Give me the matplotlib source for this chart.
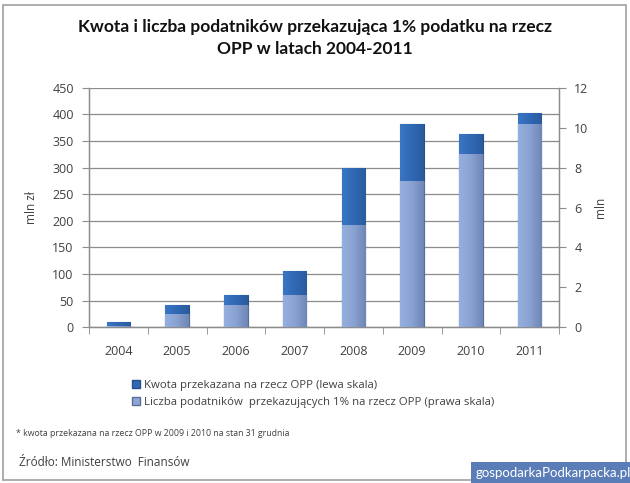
import numpy as np
import matplotlib
matplotlib.use('Agg')
import matplotlib.pyplot as plt
from matplotlib.patches import Rectangle, Patch

# data
years = ['2004', '2005', '2006', '2007', '2008', '2009', '2010', '2011']
kwota = [10.4, 41.3, 61.2, 105.9, 298.5, 381.0, 363.0, 402.0]      # mln zł, left scale
liczba = [0.08, 0.68, 1.13, 1.61, 5.11, 7.34, 8.70, 10.17]         # mln, right scale
left_ticks = [0, 50, 100, 150, 200, 250, 300, 350, 400, 450]
right_ticks = [0, 2, 4, 6, 8, 10, 12]

title = 'Kwota i liczba podatników przekazująca 1% podatku na rzecz\nOPP w latach 2004-2011'
legend_labels = ['Kwota przekazana na rzecz OPP (lewa skala)',
                 'Liczba podatników  przekazujących 1% na rzecz OPP (prawa skala)']
footnote = '* kwota przekazana na rzecz OPP w 2009 i 2010 na stan 31 grudnia'
source = 'Źródło: Ministerstwo  Finansów'
watermark = 'gospodarkaPodkarpacka.pl'

plt.rcParams['font.family'] = ['Open Sans', 'DejaVu Sans']

DARK = '#2f68b4'
LIGHT = '#8ea6d6'
TXT = '#404040'
GRID = '#8c8c8c'

fig = plt.figure(figsize=(6.3, 4.83), dpi=100)
W, H = 630, 483
ax = fig.add_axes([89 / W, 1 - 327.3 / H, 470 / W, 239.6 / H])
ax2 = ax.twinx()

x = np.arange(len(years))
bw = 0.40


def gradient_bars(axis, xs, vals, c_left, c_mid, c_right, edge):
    bars = axis.bar(xs, vals, width=bw, color=c_mid, edgecolor=edge, linewidth=0.8, zorder=3)
    cmap = matplotlib.colors.LinearSegmentedColormap.from_list('g', [c_left, c_mid, c_right])
    grad = np.linspace(0, 1, 64).reshape(1, -1)
    for b in bars:
        x0, y0 = b.get_x(), b.get_y()
        w, h = b.get_width(), b.get_height()
        im = axis.imshow(grad, cmap=cmap, aspect='auto', extent=[x0, x0 + w, y0, y0 + h],
                         zorder=3.5, interpolation='bicubic')
        im.set_clip_path(b)
    return bars


gradient_bars(ax, x, kwota, '#3a76c4', '#2f68b4', '#2a5c9e', '#25508a')
ax.set_xlim(-0.5, len(years) - 0.5)
ax.set_ylim(0, 450)
ax.set_yticks(left_ticks)
ax.yaxis.grid(True, color=GRID, linewidth=0.9, zorder=0)
ax.set_axisbelow(True)

gradient_bars(ax2, x, liczba, '#95b0e0', '#89a2d2', '#6f86b6', '#5a6e98')
ax2.set_ylim(0, 12)
ax2.set_yticks(right_ticks)
ax.set_xlim(-0.5, len(years) - 0.5)

# bottom category ticks sit between the bars
ax.set_xticks(x)
ax.set_xticklabels(years)
ax.set_xticks(np.arange(len(years) + 1) - 0.5, minor=True)
ax.tick_params(axis='x', which='major', length=0, pad=13, labelsize=9, labelcolor=TXT)
ax.tick_params(axis='x', which='minor', length=5, color=GRID, direction='out')
ax.tick_params(axis='y', length=5, color=GRID, labelsize=9, labelcolor=TXT, pad=6)
ax2.tick_params(axis='y', length=5, color=GRID, labelsize=9, labelcolor=TXT, pad=6)

for a in (ax, ax2):
    a.spines['top'].set_visible(False)
    for s in ('left', 'right', 'bottom'):
        a.spines[s].set_color(GRID)
        a.spines[s].set_linewidth(0.9)

ax.set_ylabel('mln zł', fontsize=8.5, color=TXT, labelpad=10)
ax2.set_ylabel('mln', fontsize=8.5, color=TXT, labelpad=4)

fig.text(0.5, 1 - 38 / H, title, ha='center', va='center', fontsize=12.5,
         fontweight='bold', color='#111111', linespacing=1.45, family=['Lato', 'DejaVu Sans'])

handles = [Patch(facecolor=DARK, edgecolor='#25508a'),
           Patch(facecolor=LIGHT, edgecolor='#5a6e98')]
fig.legend(handles, legend_labels, loc='upper left', bbox_to_anchor=(122 / W, 1 - 370 / H),
           frameon=False, fontsize=8.2, handlelength=0.7, handleheight=0.7,
           handletextpad=0.3, labelspacing=0.5, labelcolor=TXT)

fig.text(16 / W, 1 - 433 / H, footnote, fontsize=6.3, color=TXT, va='center')
fig.text(19 / W, 1 - 462 / H, source, fontsize=8.5, color=TXT, va='center')

# outer frame
fig.patches.append(Rectangle((3 / W, 3 / H), 623 / W, 475 / H, transform=fig.transFigure,
                             fill=False, edgecolor='#a0a0a0', linewidth=1.2))
fig.text(553 / W, 1 - 473 / H, watermark, ha='center', va='center', fontsize=9.5,
         color='white', family=['Lato', 'DejaVu Sans'],
         bbox=dict(boxstyle='square,pad=0.35', facecolor='#5a7db8', edgecolor='none'))

fig.savefig('out.png', dpi=100)
